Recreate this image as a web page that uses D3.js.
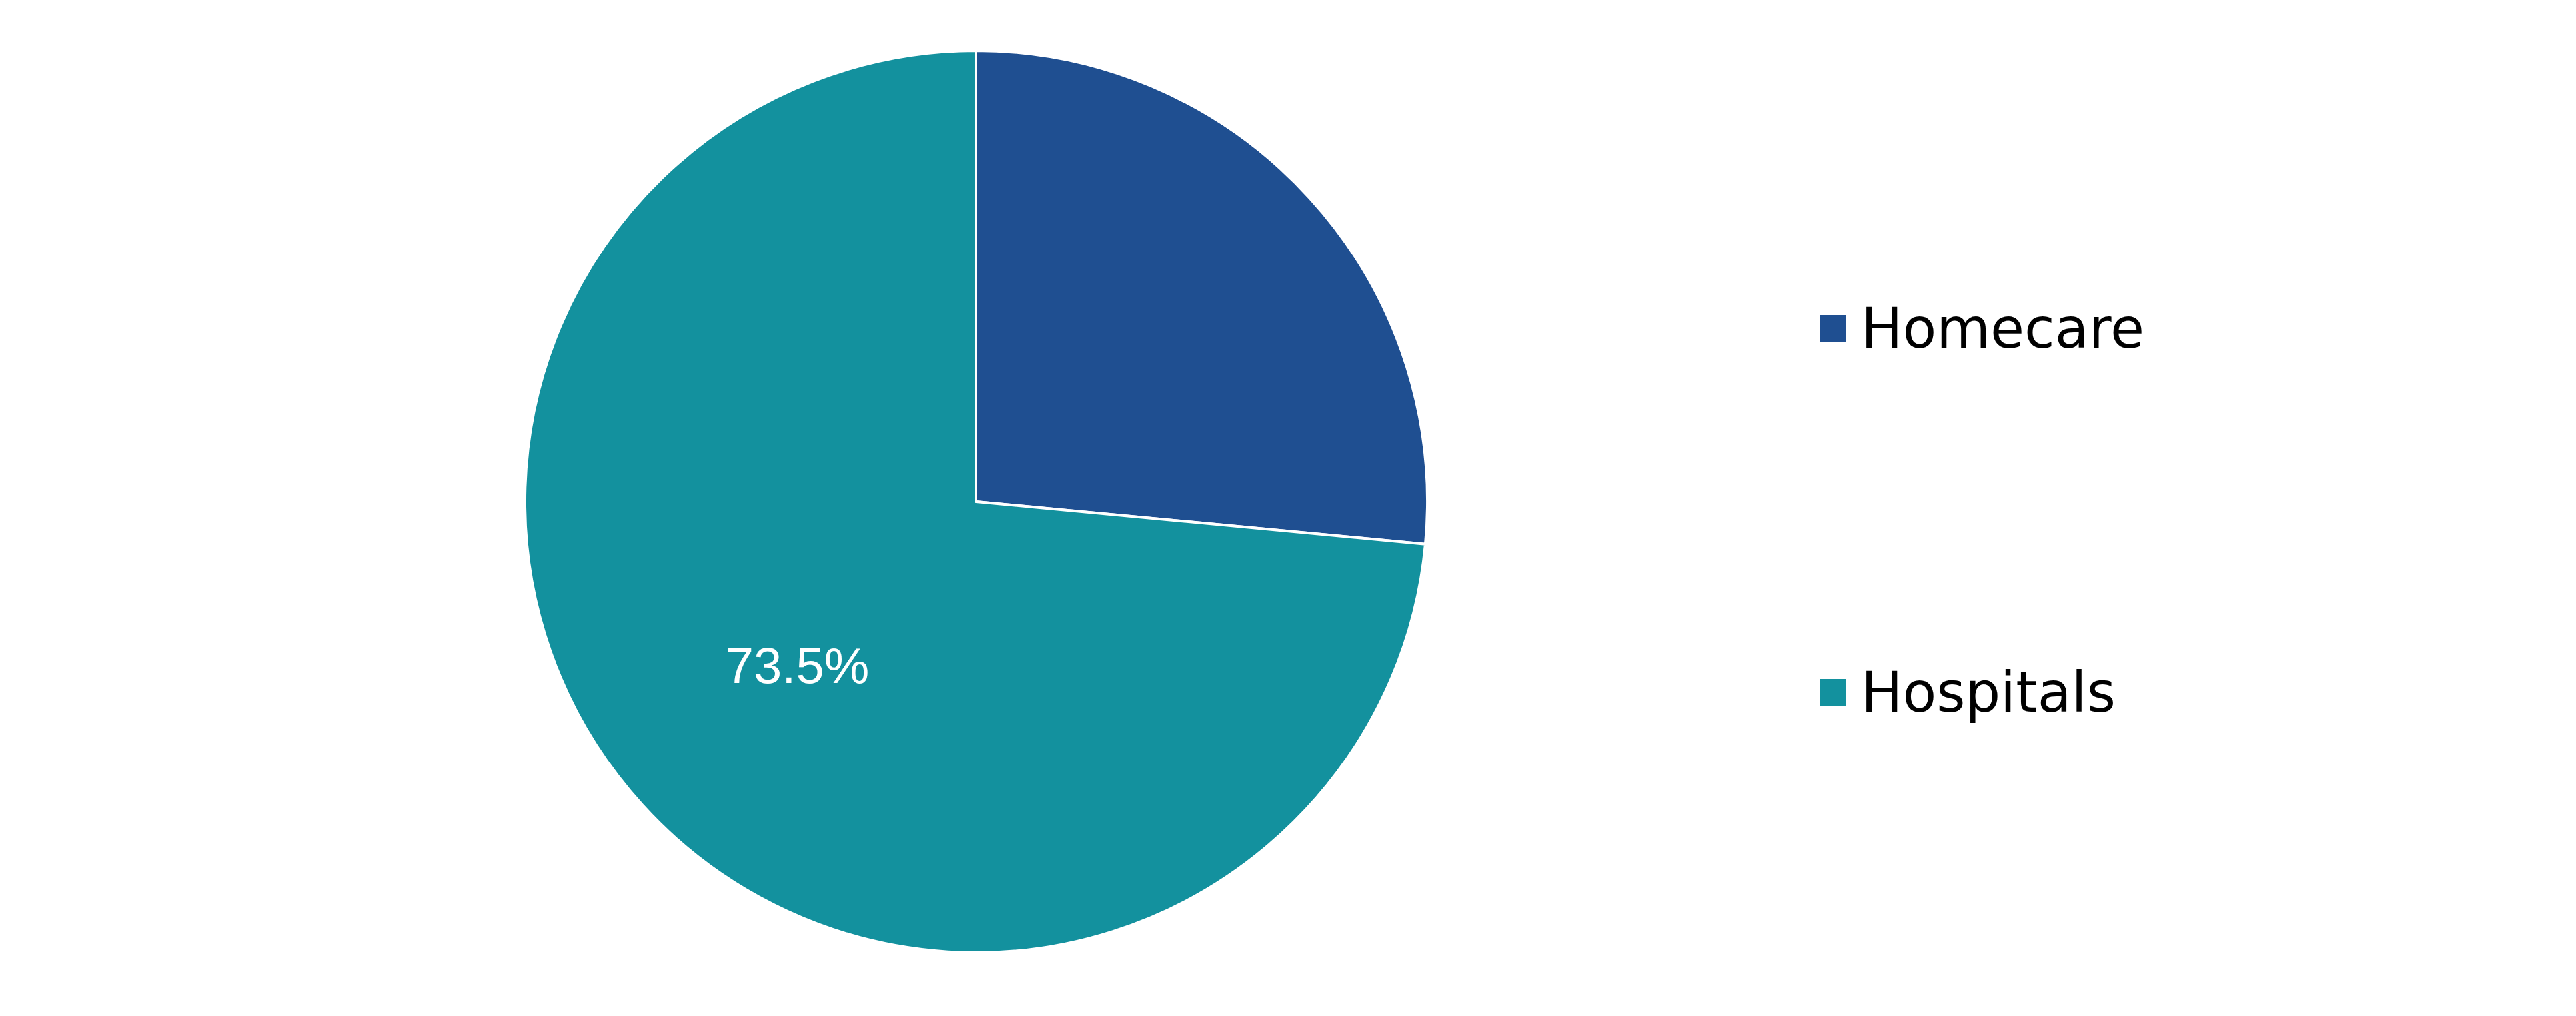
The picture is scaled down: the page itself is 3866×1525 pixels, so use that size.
<!DOCTYPE html>
<html>
<head>
<meta charset="utf-8">
<script src="https://cdn.jsdelivr.net/npm/d3@7"></script>
<style>
  body { margin: 0; background: #ffffff; }
</style>
</head>
<body>
<div id="vis"></div>
<script>
// data
const categories = ["Homecare", "Hospitals"];
const shares = [26.5, 73.5];
const colours = ["#1f4f91", "#13919e"];
const shownLabels = [false, true];

const FRAME_WIDTH = 3866;
const FRAME_HEIGHT = 1525;
const CENTER = {x: 1465, y: 753};
const RADIUS = 677;
const LABEL_RADIUS = 363;

const FRAME = d3.select("#vis")
                  .append("svg")
                    .attr("width", FRAME_WIDTH)
                    .attr("height", FRAME_HEIGHT);

const data = categories.map((c, i) => ({category: c, value: shares[i], showLabel: shownLabels[i]}));

const COLOR = d3.scaleOrdinal()
                  .domain(categories)
                  .range(colours);

const pie = d3.pie()
                .sort(null)
                .value((d) => d.value);

const arc = d3.arc()
                .innerRadius(0)
                .outerRadius(RADIUS);

const labelArc = d3.arc()
                .innerRadius(LABEL_RADIUS)
                .outerRadius(LABEL_RADIUS);

const pieG = FRAME.append("g")
                    .attr("transform", "translate(" + CENTER.x + "," + CENTER.y + ")");

const arcs = pie(data);

// slices
pieG.selectAll("path")
    .data(arcs)
    .enter()
    .append("path")
      .attr("d", arc)
      .attr("fill", (d) => COLOR(d.data.category))
      .attr("stroke", "#ffffff")
      .attr("stroke-width", 4)
      .attr("stroke-linejoin", "round");

// slice labels (only the big one is shown in the original)
pieG.selectAll(".slice-label")
    .data(arcs.filter((d) => d.data.showLabel))
    .enter()
    .append("text")
      .attr("class", "slice-label")
      .attr("transform", (d) => "translate(" + labelArc.centroid(d) + ")")
      .attr("text-anchor", "middle")
      .attr("dy", "0.36em")
      .attr("font-family", "'Liberation Sans', Arial, sans-serif")
      .attr("font-size", 76)
      .attr("fill", "#ffffff")
      .text((d) => d.data.value.toFixed(1) + "%");

// legend
const LEGEND_Y = d3.scalePoint()
                    .domain(categories)
                    .range([493, 1039]);

const legend = FRAME.selectAll(".legend")
                      .data(categories)
                      .enter()
                      .append("g")
                        .attr("class", "legend")
                        .attr("transform", (d) => "translate(2732," + LEGEND_Y(d) + ")");

legend.append("rect")
        .attr("x", 0)
        .attr("y", -20)
        .attr("width", 39)
        .attr("height", 40)
        .attr("fill", (d) => COLOR(d));

legend.append("text")
        .attr("x", 61)
        .attr("y", 29)
        .attr("font-family", "'DejaVu Sans', Verdana, sans-serif")
        .attr("font-size", 83)
        .attr("fill", "#000000")
        .text((d) => d);
</script>
</body>
</html>
